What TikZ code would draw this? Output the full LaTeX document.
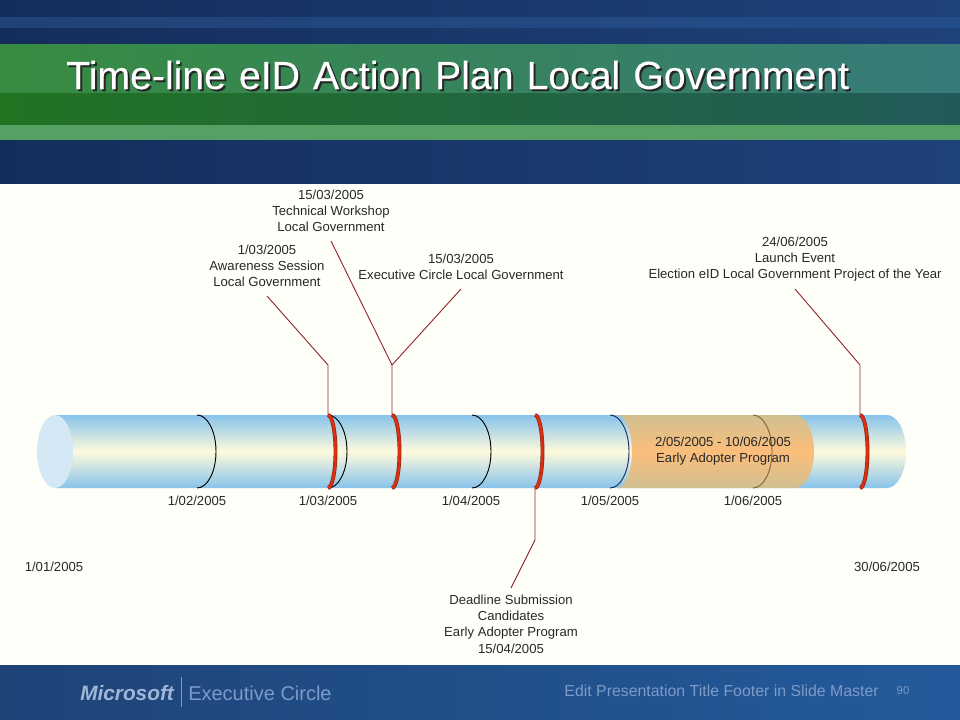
\documentclass[tikz,border=0pt]{standalone}
\usepackage{fontspec}
\setmainfont{Liberation Sans}
\newfontfamily\slidetitle[FakeBold=0.25,WordSpace=1.2]{Liberation Sans}
\definecolor{navyl}{RGB}{20,46,92}
\definecolor{navyr}{RGB}{30,66,122}
\definecolor{navyml}{RGB}{32,66,118}
\definecolor{navymr}{RGB}{36,78,138}
\definecolor{greenl}{RGB}{55,140,65}
\definecolor{greenr}{RGB}{55,122,122}
\definecolor{darkgl}{RGB}{34,115,34}
\definecolor{darkgr}{RGB}{34,90,90}
\definecolor{lightg}{RGB}{86,160,100}
\definecolor{footl}{RGB}{30,68,120}
\definecolor{footr}{RGB}{36,90,156}
\definecolor{paper}{RGB}{255,255,250}
\definecolor{tube}{RGB}{135,195,235}
\definecolor{cream}{RGB}{255,250,220}
\definecolor{tubeend}{RGB}{212,232,246}
\definecolor{bandtop}{RGB}{208,192,145}
\definecolor{bandmid}{RGB}{252,190,122}
\definecolor{leader}{RGB}{150,40,45}
\definecolor{ringred}{RGB}{222,45,15}
\definecolor{ringdark}{RGB}{140,40,25}
\definecolor{ringbrown}{RGB}{125,100,60}
\definecolor{labeltxt}{RGB}{40,40,40}
\definecolor{foottxt}{RGB}{125,155,200}
\definecolor{logotxt}{RGB}{160,182,215}
\begin{document}
\begin{tikzpicture}[x=0.75pt, y=-0.75pt]
  \tikzstyle{every node} = [inner sep = 0pt, text = labeltxt, font = \fontsize{9.85}{12.2}\selectfont, align = center];
  \tikzstyle{wire} = [draw = leader, line width = 0.7pt];
  \tikzstyle{ring} = [black, line width = 0.7pt];
  \tikzstyle{titletxt} = [font = \slidetitle\fontsize{29.4}{36}\selectfont, anchor = west];
  \tikzstyle{foot} = [text = foottxt, font = \fontsize{11.9}{14}\selectfont];
  \useasboundingbox (0,0) rectangle (960,720);
  % slide background
  \fill[paper] (0,0) rectangle (960,720);
  \shade[left color = navyl, right color = navyr] (0,0) rectangle (960,184);
  \shade[left color = navyml, right color = navymr] (0,18) rectangle (960,28);
  \shade[left color = greenl, right color = greenr] (0,45) rectangle (960,94);
  \shade[left color = darkgl, right color = darkgr] (0,94) rectangle (960,125);
  \fill[lightg] (0,125) rectangle (960,140);
  \shade[left color = footl, right color = footr] (0,665) rectangle (960,720);
  % title
  \node[titletxt, text = black!85] (titleshadow) at (68,77) {Time-line eID Action Plan Local Government};
  \node[titletxt, text = white] (title) at (66,75) {Time-line eID Action Plan Local Government};
  % tube
  \shade[top color = tube, bottom color = tube, middle color = cream]
    (55,415) -- (887,415) arc[start angle = -90, end angle = 90, x radius = 19, y radius = 36.5] -- (55,488) -- cycle;
  \shade[top color = bandtop, bottom color = bandtop, middle color = bandmid]
    (617,415) -- (795,415) arc[start angle = -90, end angle = 90, x radius = 19, y radius = 36.5]
    -- (617,488) arc[start angle = 90, end angle = -90, x radius = 15, y radius = 36.5] -- cycle;
  \fill[tubeend] (55,451.5) ellipse[x radius = 18, y radius = 36.5];
  % month rings
  \foreach \x in {197,328,472}{
    \draw[ring] (\x,415) arc[start angle = -90, end angle = 90, x radius = 19, y radius = 36.5];
  }
  \draw[ring, navyl] (610,415) arc[start angle = -90, end angle = 90, x radius = 19, y radius = 36.5];
  \draw[ring, ringbrown] (753,415) arc[start angle = -90, end angle = 90, x radius = 19, y radius = 36.5];
  % events
  \foreach \x in {328,392,535,860}{
    \draw[ringdark, line width = 2.9pt] (\x,415) arc[start angle = -90, end angle = 90, x radius = 7.5, y radius = 36.5];
    \draw[ringred, line width = 1.9pt] (\x,415) arc[start angle = -90, end angle = 90, x radius = 7.5, y radius = 36.5];
  }
  % month labels
  \foreach \x/\m in {197/02,328/03,471/04,610/05,753/06}{
    \node at (\x,501) {1/\m/2005};
  }
  \node (startdate) at (54,567) {1/01/2005};
  \node (enddate) at (887,567) {30/06/2005};
  \node (adopter) at (723,451) {2/05/2005 - 10/06/2005\\Early Adopter Program};
  % event labels
  \node (aware) at (267,266) {1/03/2005\\Awareness Session\\Local Government};
  \node (workshop) at (331,211) {15/03/2005\\Technical Workshop\\Local Government};
  \node (circle) at (461,267) {15/03/2005\\Executive Circle Local Government};
  \node (launch) at (795,259) {24/06/2005\\Launch Event\\Election eID Local Government Project of the Year};
  \node (deadline) at (511,624) {Deadline Submission\\Candidates\\Early Adopter Program\\15/04/2005};
  % leaders
  \coordinate (awarefoot) at (328,415);
  \coordinate (awarebend) at (328,365);
  \coordinate (sharedfoot) at (392,415);
  \coordinate (sharedbend) at (392,365);
  \coordinate (launchfoot) at (860,415);
  \coordinate (launchbend) at (860,365);
  \coordinate (deadlinefoot) at (535,488);
  \coordinate (deadlinebend) at (535,540);
  \draw[wire] (aware.south |- 0,296) -- (awarebend) -- (awarefoot);
  \draw[wire] (workshop.south |- 0,241) -- (sharedbend) -- (sharedfoot);
  \draw[wire] (circle.south |- 0,289) -- (sharedbend);
  \draw[wire] (launch.south |- 0,289) -- (launchbend) -- (launchfoot);
  \draw[wire] (deadline.north |- 0,588) -- (deadlinebend) -- (deadlinefoot);
  % footer
  \node[foot, text = logotxt, font = \fontsize{15.6}{18}\selectfont\bfseries\itshape, anchor = west] (mslogo) at (80,693) {Microsoft};
  \draw[foottxt, line width = 0.5pt] (181,677) -- (181,707);
  \node[foot, font = \fontsize{15}{18}\selectfont, anchor = west] (circlelogo) at (188,693) {Executive Circle};
  \node[foot, anchor = east] (footer) at (879,691) {Edit Presentation Title Footer in Slide Master};
  \node[foot, font = \fontsize{8.5}{10}\selectfont] (pagenum) at (903,691) {90};
\end{tikzpicture}
\end{document}
